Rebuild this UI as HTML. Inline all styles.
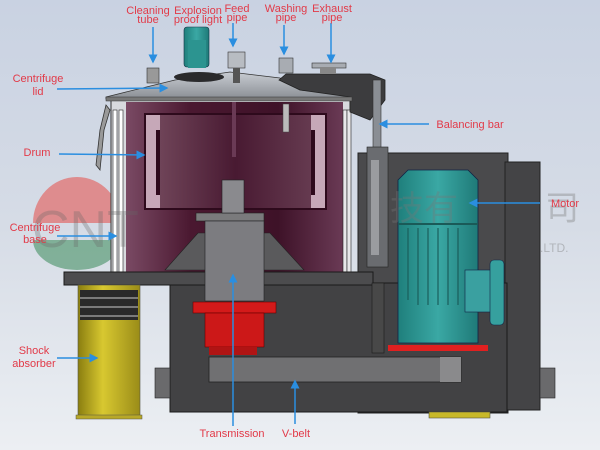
<!DOCTYPE html>
<html><head><meta charset="utf-8"><style>
html,body{margin:0;padding:0;width:600px;height:450px;overflow:hidden}
svg{display:block}
text{font-family:"Liberation Sans",sans-serif}
</style></head><body>
<svg width="600" height="450" viewBox="0 0 600 450" xmlns="http://www.w3.org/2000/svg">
<defs>
<linearGradient id="bg" x1="0" y1="0" x2="0" y2="1"><stop offset="0" stop-color="#c9d2e2"/><stop offset="0.5" stop-color="#d6dce6"/><stop offset="1" stop-color="#eceff3"/></linearGradient>
<linearGradient id="drum" x1="0" y1="0" x2="1" y2="0"><stop offset="0" stop-color="#7a4a64"/><stop offset="0.3" stop-color="#4a1830"/><stop offset="0.7" stop-color="#3e1228"/><stop offset="1" stop-color="#6a3a55"/></linearGradient>
<linearGradient id="inner" x1="0" y1="0" x2="1" y2="0"><stop offset="0" stop-color="#9a6a80"/><stop offset="0.5" stop-color="#5a2440"/><stop offset="1" stop-color="#8a5a72"/></linearGradient>
<linearGradient id="yel" x1="0" y1="0" x2="1" y2="0"><stop offset="0" stop-color="#8a7e10"/><stop offset="0.4" stop-color="#d8c830"/><stop offset="1" stop-color="#9a8c18"/></linearGradient>
<linearGradient id="teal" x1="0" y1="0" x2="1" y2="0"><stop offset="0" stop-color="#1f7f7c"/><stop offset="0.5" stop-color="#3aa8a4"/><stop offset="1" stop-color="#1f7a78"/></linearGradient>
<linearGradient id="lid" x1="0" y1="0" x2="0" y2="1"><stop offset="0" stop-color="#c8ccd2"/><stop offset="1" stop-color="#8a8e94"/></linearGradient>
<marker id="ah" markerWidth="6" markerHeight="6" refX="5" refY="3" orient="auto"><path d="M0,0 L6,3 L0,6 z" fill="#2a8ee0"/></marker>
</defs>
<rect width="600" height="450" fill="url(#bg)"/>

<!-- watermark -->
<path d="M33,223 A44,46 0 0 1 121,223 Z" fill="#e07878" opacity="0.8"/>
<path d="M33,240 A44,30 0 0 0 121,240 Z" fill="#6aa484" opacity="0.8"/>

<!-- rear motor housing -->
<rect x="358" y="153" width="150" height="260" fill="#4a4a4c" stroke="#222" stroke-width="1"/>
<rect x="505" y="162" width="35" height="248" fill="#444446" stroke="#222"/>

<!-- drum frame -->
<rect x="111" y="97" width="239" height="175" fill="#d8dade" stroke="#333"/>
<rect x="113" y="110" width="4" height="162" fill="#fff" stroke="#222" stroke-width="0.6"/>
<rect x="119" y="110" width="4" height="162" fill="#fff" stroke="#222" stroke-width="0.6"/>
<rect x="126" y="102" width="217" height="170" fill="url(#drum)"/>
<path d="M144,113 H327 V210 H144 Z" fill="#2e0a1c"/>
<path d="M146,115 H160 L160,130 L156,130 L156,195 L160,195 L160,208 H146 Z" fill="#c6a8b8"/>
<path d="M325,115 H311 L311,130 L315,130 L315,195 L311,195 L311,208 H325 Z" fill="#c6a8b8"/>
<rect x="160" y="115" width="151" height="93" fill="url(#inner)" opacity="0.6"/>
<rect x="343" y="110" width="4" height="162" fill="#e8e8ea" stroke="#222" stroke-width="0.6"/>
<rect x="347" y="110" width="4" height="162" fill="#e8e8ea" stroke="#222" stroke-width="0.6"/>
<rect x="232" y="102" width="4" height="55" fill="#6a3a55"/>
<rect x="283" y="104" width="6" height="28" fill="#bbb" stroke="#444" stroke-width="0.5"/>
<!-- latch -->
<path d="M106,105 L100,130 L96,165 L100,170 L104,130 L110,110 Z" fill="#999" stroke="#333" stroke-width="0.8"/>

<!-- lid -->
<path d="M106,97 L126,92 L175,80 L230,72 L280,78 L300,90 L350,95 L350,99 L106,99 Z" fill="url(#lid)" stroke="#333" stroke-width="0.8"/>
<path d="M279,80 L286,74 L370,74 L385,80 L385,100 L370,120 L350,112 L350,97 L300,90 Z" fill="#3c3c3e" stroke="#222" stroke-width="0.8"/>
<rect x="106" y="97" width="246" height="4" fill="#777" stroke="#333" stroke-width="0.5"/>
<!-- top fittings -->
<ellipse cx="199" cy="77" rx="25" ry="5" fill="#2a2a2c"/>
<rect x="184" y="27" width="25" height="40" rx="3" fill="url(#teal)" stroke="#134" stroke-width="0.6"/>
<rect x="188" y="40" width="18" height="28" fill="#2c9490"/>
<rect x="228" y="52" width="17" height="16" fill="#b8bcc2" stroke="#333" stroke-width="0.6"/>
<rect x="233" y="68" width="7" height="15" fill="#555"/>
<rect x="279" y="58" width="14" height="15" fill="#a8acb2" stroke="#333" stroke-width="0.6"/>
<rect x="312" y="63" width="34" height="5" fill="#a8acb2" stroke="#333" stroke-width="0.6"/>
<rect x="320" y="67" width="16" height="7" fill="#888"/>
<rect x="147" y="68" width="12" height="15" fill="#999" stroke="#333" stroke-width="0.6"/>

<!-- balancing bar -->
<rect x="373" y="80" width="8" height="70" fill="#8a8e94" stroke="#333" stroke-width="0.6"/>
<rect x="367" y="147" width="21" height="120" fill="#6a6c70" stroke="#222" stroke-width="0.6"/>
<rect x="371" y="160" width="8" height="95" fill="#9a9ca0"/>

<!-- base plate & housing -->
<rect x="170" y="283" width="337" height="129" fill="#424244" stroke="#1a1a1a"/>
<rect x="64" y="272" width="309" height="13" fill="#4c4c4e" stroke="#1a1a1a"/>
<rect x="372" y="283" width="12" height="70" fill="#484848" stroke="#1a1a1a" stroke-width="0.6"/>
<!-- cone supports -->
<path d="M198,233 L165,270 L304,270 L270,233 Z" fill="#5a5a5c" stroke="#222" stroke-width="0.6"/>
<rect x="196" y="213" width="68" height="8" fill="#7a7a7c" stroke="#222" stroke-width="0.6"/>
<rect x="205" y="221" width="59" height="80" fill="#7c7c80" stroke="#222" stroke-width="0.6"/>
<rect x="222" y="180" width="22" height="33" fill="#8a8a8e" stroke="#222" stroke-width="0.6"/>
<!-- red transmission -->
<rect x="193" y="302" width="83" height="11" fill="#d41a1a" stroke="#600" stroke-width="0.6"/>
<rect x="205" y="313" width="59" height="34" fill="#cc1818" stroke="#600" stroke-width="0.6"/>
<rect x="209" y="347" width="48" height="8" fill="#b01414"/>

<!-- motor -->
<path d="M398,180 L408,170 L468,170 L478,180 L478,343 L398,343 Z" fill="url(#teal)" stroke="#124" stroke-width="0.8"/>
<rect x="398" y="223" width="80" height="2" fill="#1a5a58"/>
<g stroke="#1a5e5c" stroke-width="1.2"><line x1="408" y1="228" x2="408" y2="300"/><line x1="418" y1="228" x2="418" y2="305"/><line x1="428" y1="228" x2="428" y2="305"/><line x1="438" y1="228" x2="438" y2="305"/><line x1="448" y1="228" x2="448" y2="305"/><line x1="458" y1="228" x2="458" y2="305"/></g>
<rect x="465" y="270" width="28" height="42" fill="#3aa0a0" stroke="#124" stroke-width="0.6"/>
<rect x="490" y="260" width="14" height="65" rx="4" fill="#36a09e" stroke="#124" stroke-width="0.6"/>
<rect x="388" y="345" width="100" height="6" fill="#e02020"/>

<!-- V-belt -->
<rect x="209" y="357" width="252" height="25" fill="#707072" stroke="#222" stroke-width="0.8"/>
<rect x="440" y="357" width="21" height="25" fill="#8a8a8c"/>
<!-- pipes -->
<rect x="155" y="368" width="15" height="30" fill="#6a6a6c" stroke="#222" stroke-width="0.6"/>
<rect x="540" y="368" width="15" height="30" fill="#6a6a6c" stroke="#222" stroke-width="0.6"/>
<rect x="429" y="412" width="61" height="6" fill="#c8b828" stroke="#554" stroke-width="0.6"/>

<!-- shock absorber -->
<rect x="78" y="285" width="62" height="133" fill="url(#yel)" stroke="#554" stroke-width="0.6"/>
<rect x="80" y="290" width="58" height="30" fill="#2a2a2a"/>
<g stroke="#ccc" stroke-width="1"><line x1="80" y1="298" x2="138" y2="298"/><line x1="80" y1="307" x2="138" y2="307"/><line x1="80" y1="316" x2="138" y2="316"/></g>
<rect x="76" y="415" width="66" height="4" fill="#b8a828" stroke="#554" stroke-width="0.5"/>

<!-- watermark text -->
<text x="32" y="247" font-family="Liberation Serif" font-size="52" fill="#666" opacity="0.3">CNT</text>
<text x="390" y="220" font-family="'Liberation Sans','Noto Sans CJK SC',sans-serif" font-size="34" fill="#777" opacity="0.35">技有</text>
<text x="545" y="220" font-family="'Liberation Sans','Noto Sans CJK SC',sans-serif" font-size="34" fill="#777" opacity="0.35">司</text>
<text x="540" y="252" font-size="12" fill="#777" opacity="0.4">.LTD.</text>

<!-- arrows -->
<g stroke="#2a8ee0" stroke-width="1.5" fill="none" marker-end="url(#ah)">
<line x1="153" y1="27" x2="153" y2="62"/>
<line x1="233" y1="23" x2="233" y2="46"/>
<line x1="284" y1="25" x2="284" y2="54"/>
<line x1="331" y1="23" x2="331" y2="62"/>
<line x1="57" y1="89" x2="167" y2="88"/>
<line x1="59" y1="154" x2="144" y2="155"/>
<line x1="429" y1="124" x2="380" y2="124"/>
<line x1="540" y1="203" x2="470" y2="203"/>
<line x1="57" y1="236" x2="116" y2="236"/>
<line x1="57" y1="358" x2="97" y2="358"/>
<line x1="233" y1="426" x2="233" y2="275"/>
<line x1="295" y1="424" x2="295" y2="381"/>
</g>

<!-- labels -->
<g fill="#e23a48" font-size="11" text-anchor="middle">
<text x="148" y="14">Cleaning</text><text x="148" y="23">tube</text>
<text x="198" y="14">Explosion</text><text x="198" y="23">proof light</text>
<text x="237" y="12">Feed</text><text x="237" y="21">pipe</text>
<text x="286" y="12">Washing</text><text x="286" y="21">pipe</text>
<text x="332" y="12">Exhaust</text><text x="332" y="21">pipe</text>
<text x="38" y="82">Centrifuge</text><text x="38" y="95">lid</text>
<text x="37" y="156">Drum</text>
<text x="470" y="128">Balancing bar</text>
<text x="565" y="207">Motor</text>
<text x="35" y="231">Centrifuge</text><text x="35" y="243">base</text>
<text x="34" y="354">Shock</text><text x="34" y="367">absorber</text>
<text x="232" y="437">Transmission</text>
<text x="296" y="437">V-belt</text>
</g>
</svg>
</body></html>
